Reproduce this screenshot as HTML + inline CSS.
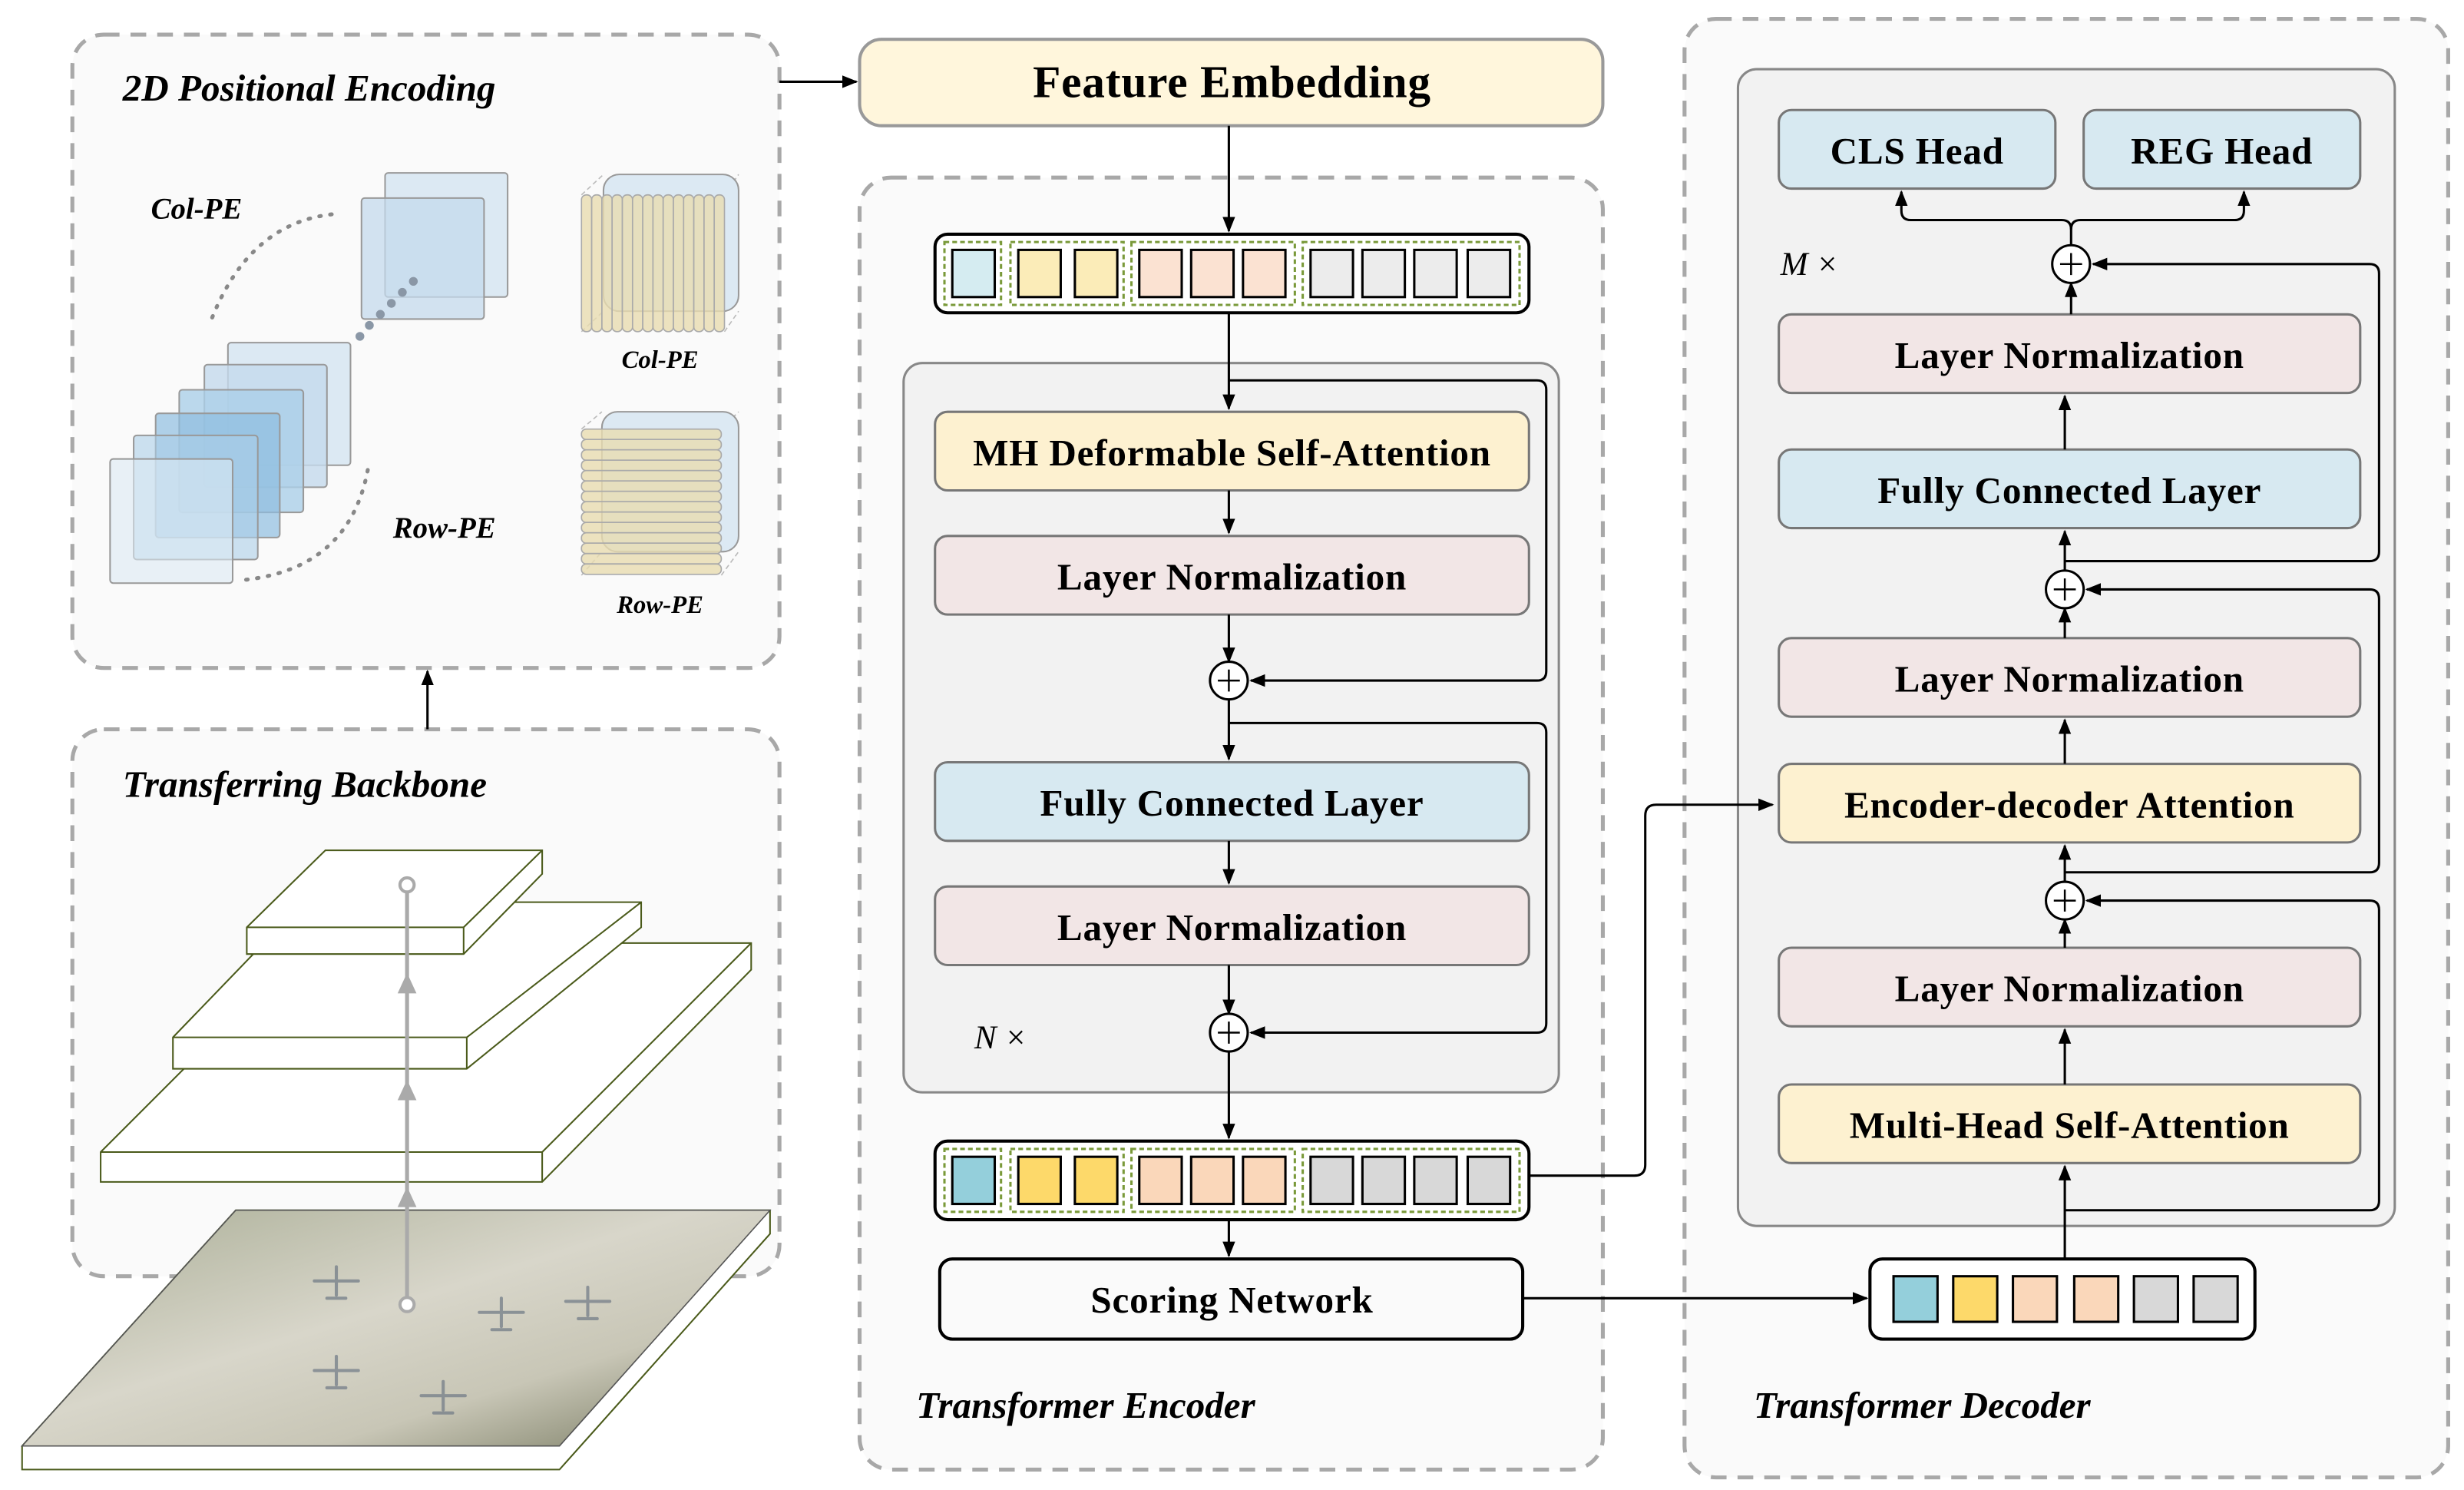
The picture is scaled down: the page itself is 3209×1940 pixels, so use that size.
<!DOCTYPE html>
<html><head><meta charset="utf-8"><style>
html,body{margin:0;padding:0;background:#fff;}
svg{display:block;}
text{font-family:"Liberation Serif",serif;}
.b{font-weight:bold;font-size:24px;letter-spacing:0.4px;text-anchor:middle;dominant-baseline:central;}
.it{font-style:italic;font-weight:bold;}
</style></head><body>
<svg width="3209" height="1940" viewBox="0 0 1568 948" xmlns="http://www.w3.org/2000/svg">
<defs>
<marker id="ar" markerWidth="10" markerHeight="10" refX="9" refY="5" orient="auto" markerUnits="userSpaceOnUse"><path d="M0,1 L10,5 L0,9 z" fill="#000"/></marker>
<linearGradient id="img" x1="0" y1="0" x2="1" y2="1"><stop offset="0" stop-color="#a9ad95"/><stop offset="0.45" stop-color="#d8d6ca"/><stop offset="0.7" stop-color="#c8c6b6"/><stop offset="1" stop-color="#6f7258"/></linearGradient>
</defs>
<g fill="#fafafa" stroke="#a8a8a8" stroke-width="2.5" stroke-dasharray="10,7">
<rect x="46" y="22" width="450" height="403" rx="20"/>
<rect x="46" y="464" width="450" height="348" rx="20"/>
<rect x="547" y="113" width="473" height="822" rx="20"/>
<rect x="1072" y="12" width="486" height="928" rx="20"/>
</g>
<text x="78" y="64" class="it" font-size="24">2D Positional Encoding</text>
<text x="78" y="507" class="it" font-size="24">Transferring Backbone</text>
<text x="583" y="902" class="it" font-size="24">Transformer Encoder</text>
<text x="1116" y="902" class="it" font-size="24">Transformer Decoder</text>
<g stroke="#999" stroke-width="1">
<rect x="245" y="110" width="78" height="79" fill="#dce9f3" rx="2"/>
<rect x="230" y="126" width="78" height="77" fill="#c4d9ec" fill-opacity="0.75" rx="2"/>
<rect x="145" y="218" width="78" height="78" fill="#dce9f3" rx="2"/>
<rect x="130" y="232" width="78" height="78" fill="#c4d9ec" fill-opacity="0.8" rx="2"/>
<rect x="114" y="248" width="79" height="78" fill="#abcfe8" fill-opacity="0.8" rx="2"/>
<rect x="99" y="263" width="79" height="79" fill="#8fbde0" fill-opacity="0.7" rx="2"/>
<rect x="85" y="277" width="79" height="79" fill="#abcfe8" fill-opacity="0.6" rx="2"/>
<rect x="70" y="292" width="78" height="79" fill="#dce9f3" fill-opacity="0.6" rx="2"/>
</g>
<path d="M135,202 Q160,140 215,136" fill="none" stroke="#888" stroke-width="2.5" stroke-dasharray="1,6" stroke-linecap="round"/>
<path d="M234,299 Q222,362 155,369" fill="none" stroke="#888" stroke-width="2.5" stroke-dasharray="1,6" stroke-linecap="round"/>
<g fill="#8a97a6"><circle cx="263" cy="179" r="2.8"/><circle cx="256" cy="186" r="2.8"/><circle cx="249" cy="193" r="2.8"/><circle cx="242" cy="200" r="2.8"/><circle cx="235" cy="207" r="2.8"/><circle cx="229" cy="214" r="2.8"/></g>
<text x="96" y="139" class="it" font-size="19">Col-PE</text>
<text x="250" y="342" class="it" font-size="19">Row-PE</text>
<g stroke="#bbb" stroke-width="0.8" stroke-dasharray="3,2" fill="none"><path d="M370,124 L384,111 M461,124 L470,111 M370,211 L384,198 M461,211 L470,198"/></g>
<rect x="384" y="111" width="86" height="87" rx="10" fill="#dce9f3" stroke="#999"/>
<g fill="#e8dcb0" fill-opacity="0.8" stroke="#aaa" stroke-width="0.8">
<rect x="370" y="124" width="6.5" height="87" rx="3"/><rect x="376.5" y="124" width="6.5" height="87" rx="3"/><rect x="383" y="124" width="6.5" height="87" rx="3"/><rect x="389.5" y="124" width="6.5" height="87" rx="3"/><rect x="396" y="124" width="6.5" height="87" rx="3"/><rect x="402.5" y="124" width="6.5" height="87" rx="3"/><rect x="409" y="124" width="6.5" height="87" rx="3"/><rect x="415.5" y="124" width="6.5" height="87" rx="3"/><rect x="422" y="124" width="6.5" height="87" rx="3"/><rect x="428.5" y="124" width="6.5" height="87" rx="3"/><rect x="435" y="124" width="6.5" height="87" rx="3"/><rect x="441.5" y="124" width="6.5" height="87" rx="3"/><rect x="448" y="124" width="6.5" height="87" rx="3"/><rect x="454.5" y="124" width="6.5" height="87" rx="3"/>
</g>
<text x="420" y="234" class="it" font-size="16" text-anchor="middle">Col-PE</text>
<g stroke="#bbb" stroke-width="0.8" stroke-dasharray="3,2" fill="none"><path d="M370,273 L383,262 M459,273 L470,262 M370,366 L383,351 M459,366 L470,351"/></g>
<rect x="383" y="262" width="87" height="89" rx="10" fill="#dce9f3" stroke="#999"/>
<g fill="#e8dcb0" fill-opacity="0.8" stroke="#aaa" stroke-width="0.8">
<rect x="370" y="273" width="89" height="6.6" rx="3"/><rect x="370" y="279.6" width="89" height="6.6" rx="3"/><rect x="370" y="286.2" width="89" height="6.6" rx="3"/><rect x="370" y="292.8" width="89" height="6.6" rx="3"/><rect x="370" y="299.4" width="89" height="6.6" rx="3"/><rect x="370" y="306" width="89" height="6.6" rx="3"/><rect x="370" y="312.6" width="89" height="6.6" rx="3"/><rect x="370" y="319.2" width="89" height="6.6" rx="3"/><rect x="370" y="325.8" width="89" height="6.6" rx="3"/><rect x="370" y="332.4" width="89" height="6.6" rx="3"/><rect x="370" y="339" width="89" height="6.6" rx="3"/><rect x="370" y="345.6" width="89" height="6.6" rx="3"/><rect x="370" y="352.2" width="89" height="6.6" rx="3"/><rect x="370" y="358.8" width="89" height="6.6" rx="3"/>
</g>
<text x="420" y="390" class="it" font-size="16" text-anchor="middle">Row-PE</text>
<line x1="496" y1="52" x2="545" y2="52" stroke="#000" stroke-width="1.5" marker-end="url(#ar)"/>
<line x1="272" y1="464" x2="272" y2="427" stroke="#000" stroke-width="1.5" marker-end="url(#ar)"/>
<polygon points="14,920 150,770 490,770 490,785 356,935 14,935" fill="#fff" stroke="#4a5a1a" stroke-width="1"/>
<polygon points="14,920 150,770 490,770 356,920" fill="url(#img)" stroke="#555" stroke-width="0.8"/>
<g stroke="#6d7884" stroke-width="2" stroke-linecap="round" opacity="0.7" fill="none">
<path d="M200,815 h28 M214,806 v18 M208,826 h12"/>
<path d="M305,835 h28 M319,826 v18 M313,846 h12"/>
<path d="M360,828 h28 M374,819 v18 M368,839 h12"/>
<path d="M200,872 h28 M214,863 v18 M208,883 h12"/>
<path d="M268,888 h28 M282,879 v18 M276,899 h12"/>
</g>
<g stroke="#4a5a1a" stroke-width="1" fill="#fff">
<polygon points="64,733 197,600 478,600 478,617 345,752 64,752"/>
<line x1="64" y1="733" x2="345" y2="733"/><line x1="345" y1="733" x2="478" y2="600"/><line x1="345" y1="733" x2="345" y2="752"/>
<polygon points="110,660 193,574 408,574 408,590 297,680 110,680"/>
<line x1="110" y1="660" x2="297" y2="660"/><line x1="297" y1="660" x2="408" y2="574"/><line x1="297" y1="660" x2="297" y2="680"/>
<polygon points="157,590 207,541 345,541 345,556 295,607 157,607"/>
<line x1="157" y1="590" x2="295" y2="590"/><line x1="295" y1="590" x2="345" y2="541"/><line x1="295" y1="590" x2="295" y2="607"/>
</g>
<line x1="259" y1="830" x2="259" y2="567" stroke="#aaa" stroke-width="2.5"/>
<circle cx="259" cy="830" r="4.5" fill="#fff" stroke="#aaa" stroke-width="2"/>
<circle cx="259" cy="563" r="4.5" fill="#fff" stroke="#aaa" stroke-width="2"/>
<g fill="#aaa"><path d="M253,768 L259,755 L265,768z"/><path d="M253,700 L259,687 L265,700z"/><path d="M253,632 L259,619 L265,632z"/></g>
<rect x="547" y="25" width="473" height="55" rx="14" fill="#fff6dc" stroke="#999" stroke-width="2"/>
<text x="784" y="52" class="b" style="font-size:29px">Feature Embedding</text>
<line x1="782" y1="80" x2="782" y2="147" stroke="#000" stroke-width="1.5" marker-end="url(#ar)"/>
<rect x="595" y="149" width="378" height="50" rx="8" fill="#fff" stroke="#000" stroke-width="2"/>
<g fill="none" stroke="#7a9a3a" stroke-width="1.5" stroke-dasharray="3,2">
<rect x="601" y="154" width="36" height="40"/><rect x="643" y="154" width="72" height="40"/><rect x="720" y="154" width="104" height="40"/><rect x="829" y="154" width="138" height="40"/>
</g>
<g stroke="#000" stroke-width="1.5">
<rect x="606" y="159" width="27" height="30" fill="#d5ecf1"/>
<rect x="648" y="159" width="27" height="30" fill="#fbecb8"/><rect x="684" y="159" width="27" height="30" fill="#fbecb8"/>
<rect x="725" y="159" width="27" height="30" fill="#fbe2d2"/><rect x="758" y="159" width="27" height="30" fill="#fbe2d2"/><rect x="791" y="159" width="27" height="30" fill="#fbe2d2"/>
<rect x="834" y="159" width="27" height="30" fill="#ececec"/><rect x="867" y="159" width="27" height="30" fill="#ececec"/><rect x="900" y="159" width="27" height="30" fill="#ececec"/><rect x="934" y="159" width="27" height="30" fill="#ececec"/>
</g>
<rect x="575" y="231" width="417" height="464" rx="12" fill="#f2f2f2" stroke="#888" stroke-width="1.5"/>
<g stroke="#777" stroke-width="1.5">
<rect x="595" y="262" width="378" height="50" rx="8" fill="#fdf1d0"/>
<rect x="595" y="341" width="378" height="50" rx="8" fill="#f2e6e6"/>
<rect x="595" y="485" width="378" height="50" rx="8" fill="#d7e9f1"/>
<rect x="595" y="564" width="378" height="50" rx="8" fill="#f2e6e6"/>
</g>
<text x="784" y="288" class="b">MH Deformable Self-Attention</text>
<text x="784" y="367" class="b">Layer Normalization</text>
<text x="784" y="511" class="b">Fully Connected Layer</text>
<text x="784" y="590" class="b">Layer Normalization</text>
<g stroke="#000" stroke-width="1.5" fill="none">
<line x1="782" y1="199" x2="782" y2="260" marker-end="url(#ar)"/>
<line x1="782" y1="312" x2="782" y2="339" marker-end="url(#ar)"/>
<line x1="782" y1="391" x2="782" y2="421" marker-end="url(#ar)"/>
<line x1="782" y1="445" x2="782" y2="483" marker-end="url(#ar)"/>
<line x1="782" y1="535" x2="782" y2="562" marker-end="url(#ar)"/>
<line x1="782" y1="614" x2="782" y2="645" marker-end="url(#ar)"/>
<line x1="782" y1="669" x2="782" y2="724" marker-end="url(#ar)"/>
<path d="M782,242 H978 Q984,242 984,248 V427 Q984,433 978,433 H796" marker-end="url(#ar)"/>
<path d="M782,460 H978 Q984,460 984,466 V651 Q984,657 978,657 H796" marker-end="url(#ar)"/>
</g>
<g fill="#fff" stroke="#000" stroke-width="1.5">
<circle cx="782" cy="433" r="12"/><circle cx="782" cy="657" r="12"/>
</g>
<g stroke="#000" stroke-width="1.2"><path d="M775,433 H789 M782,426 V440 M775,657 H789 M782,650 V664"/></g>
<text x="620" y="667" font-size="21" font-style="italic">N ×</text>
<rect x="595" y="726" width="378" height="50" rx="8" fill="#fff" stroke="#000" stroke-width="2"/>
<g fill="none" stroke="#7a9a3a" stroke-width="1.5" stroke-dasharray="3,2">
<rect x="601" y="731" width="36" height="40"/><rect x="643" y="731" width="72" height="40"/><rect x="720" y="731" width="104" height="40"/><rect x="829" y="731" width="138" height="40"/>
</g>
<g stroke="#000" stroke-width="1.5">
<rect x="606" y="736" width="27" height="30" fill="#94cfdb"/>
<rect x="648" y="736" width="27" height="30" fill="#fdd96a"/><rect x="684" y="736" width="27" height="30" fill="#fdd96a"/>
<rect x="725" y="736" width="27" height="30" fill="#fad7ba"/><rect x="758" y="736" width="27" height="30" fill="#fad7ba"/><rect x="791" y="736" width="27" height="30" fill="#fad7ba"/>
<rect x="834" y="736" width="27" height="30" fill="#d8d8d8"/><rect x="867" y="736" width="27" height="30" fill="#d8d8d8"/><rect x="900" y="736" width="27" height="30" fill="#d8d8d8"/><rect x="934" y="736" width="27" height="30" fill="#d8d8d8"/>
</g>
<line x1="782" y1="776" x2="782" y2="799" stroke="#000" stroke-width="1.5" marker-end="url(#ar)"/>
<rect x="598" y="801" width="371" height="51" rx="8" fill="#fafafa" stroke="#000" stroke-width="2"/>
<text x="784" y="827" class="b">Scoring Network</text>
<line x1="969" y1="826" x2="1188" y2="826" stroke="#000" stroke-width="1.5" marker-end="url(#ar)"/>
<rect x="1106" y="44" width="418" height="736" rx="12" fill="#f2f2f2" stroke="#888" stroke-width="1.5"/>
<path d="M973,748 H1040 Q1047,748 1047,741 V519 Q1047,512 1054,512 H1128" fill="none" stroke="#000" stroke-width="1.5" marker-end="url(#ar)"/>
<g stroke="#777" stroke-width="1.5">
<rect x="1132" y="70" width="176" height="50" rx="8" fill="#d7e9f1"/>
<rect x="1326" y="70" width="176" height="50" rx="8" fill="#d7e9f1"/>
<rect x="1132" y="200" width="370" height="50" rx="8" fill="#f2e6e6"/>
<rect x="1132" y="286" width="370" height="50" rx="8" fill="#d7e9f1"/>
<rect x="1132" y="406" width="370" height="50" rx="8" fill="#f2e6e6"/>
<rect x="1132" y="486" width="370" height="50" rx="8" fill="#fdf1d0"/>
<rect x="1132" y="603" width="370" height="50" rx="8" fill="#f2e6e6"/>
<rect x="1132" y="690" width="370" height="50" rx="8" fill="#fdf1d0"/>
</g>
<text x="1220" y="96" class="b">CLS Head</text>
<text x="1414" y="96" class="b">REG Head</text>
<text x="1317" y="226" class="b">Layer Normalization</text>
<text x="1317" y="312" class="b">Fully Connected Layer</text>
<text x="1317" y="432" class="b">Layer Normalization</text>
<text x="1317" y="512" class="b">Encoder-decoder Attention</text>
<text x="1317" y="629" class="b">Layer Normalization</text>
<text x="1317" y="716" class="b">Multi-Head Self-Attention</text>
<text x="1133" y="175" font-size="21" font-style="italic">M ×</text>
<g stroke="#000" stroke-width="1.5" fill="none">
<line x1="1314" y1="801" x2="1314" y2="742" marker-end="url(#ar)"/>
<line x1="1314" y1="690" x2="1314" y2="655" marker-end="url(#ar)"/>
<line x1="1314" y1="603" x2="1314" y2="585" marker-end="url(#ar)"/>
<line x1="1314" y1="561" x2="1314" y2="538" marker-end="url(#ar)"/>
<line x1="1314" y1="486" x2="1314" y2="458" marker-end="url(#ar)"/>
<line x1="1314" y1="406" x2="1314" y2="387" marker-end="url(#ar)"/>
<line x1="1314" y1="363" x2="1314" y2="338" marker-end="url(#ar)"/>
<line x1="1314" y1="286" x2="1314" y2="252" marker-end="url(#ar)"/>
<line x1="1318" y1="200" x2="1318" y2="180" marker-end="url(#ar)"/>
<path d="M1314,770 H1508 Q1514,770 1514,764 V579 Q1514,573 1508,573 H1328" marker-end="url(#ar)"/>
<path d="M1314,555 H1508 Q1514,555 1514,549 V381 Q1514,375 1508,375 H1328" marker-end="url(#ar)"/>
<path d="M1314,357 H1508 Q1514,357 1514,351 V174 Q1514,168 1508,168 H1332" marker-end="url(#ar)"/>
<path d="M1318,156 V146 Q1318,140 1312,140 H1216 Q1210,140 1210,134 V122" marker-end="url(#ar)"/>
<path d="M1318,146 Q1318,140 1324,140 H1422 Q1428,140 1428,134 V122" marker-end="url(#ar)"/>
</g>
<g fill="#fff" stroke="#000" stroke-width="1.5">
<circle cx="1318" cy="168" r="12"/><circle cx="1314" cy="375" r="12"/><circle cx="1314" cy="573" r="12"/>
</g>
<g stroke="#000" stroke-width="1.2"><path d="M1311,168 H1325 M1318,161 V175 M1307,375 H1321 M1314,368 V382 M1307,573 H1321 M1314,566 V580"/></g>
<rect x="1190" y="801" width="245" height="51" rx="8" fill="#fff" stroke="#000" stroke-width="2"/>
<g stroke="#000" stroke-width="1.5">
<rect x="1205" y="812" width="28" height="29" fill="#94cfdb"/>
<rect x="1243" y="812" width="28" height="29" fill="#fdd96a"/>
<rect x="1281" y="812" width="28" height="29" fill="#fad7ba"/>
<rect x="1320" y="812" width="28" height="29" fill="#fad7ba"/>
<rect x="1358" y="812" width="28" height="29" fill="#d8d8d8"/>
<rect x="1396" y="812" width="28" height="29" fill="#d8d8d8"/>
</g>
</svg>
</body></html>
